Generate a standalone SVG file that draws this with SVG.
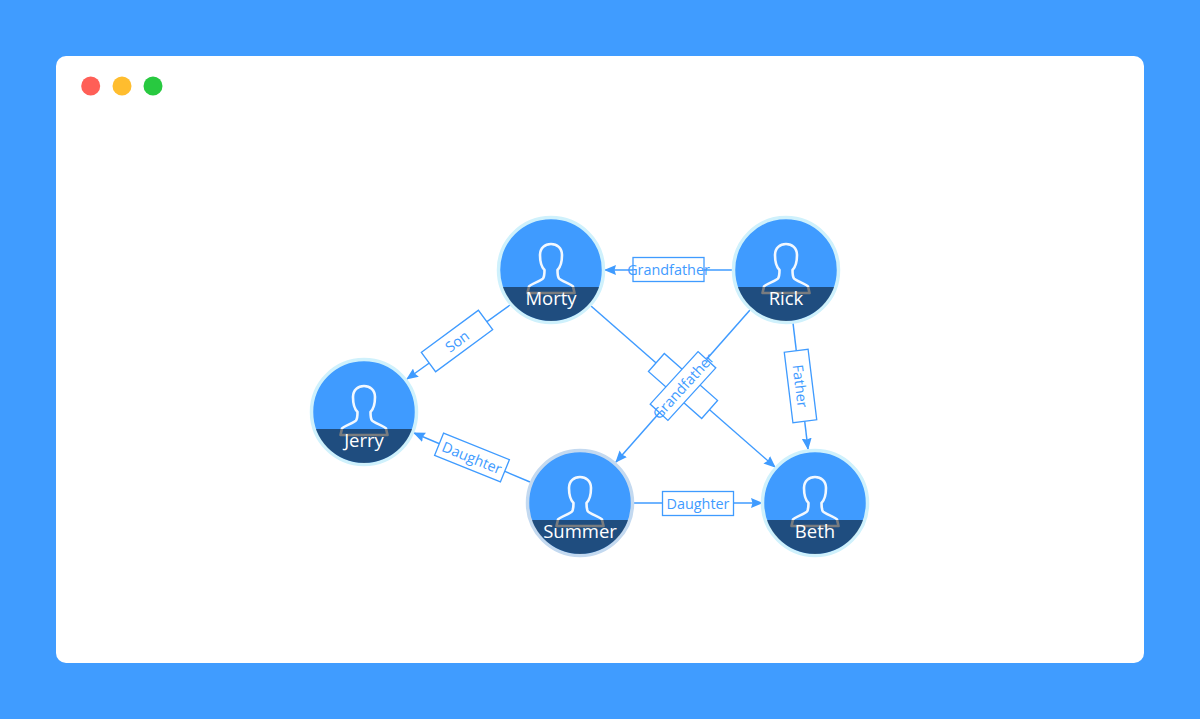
<svg xmlns="http://www.w3.org/2000/svg" xmlns:xlink="http://www.w3.org/1999/xlink" width="1200" height="719" viewBox="0 0 1200 719">
<style>
.edge{fill:none;stroke:#3f9bff;stroke-width:1.5;marker-end:url(#arr)}
.lbox{fill:#fff;stroke:#3f9bff;stroke-width:1.3}
.ltxt{font-family:"Open Sans","Noto Sans",sans-serif;font-size:14.4px;fill:#3f9bff;text-anchor:middle;dominant-baseline:central}
.ring{fill:#3f9bff;stroke:#cff1fc;stroke-width:3.5}
.ring2{fill:#3f9bff;stroke:#c3d9f0;stroke-width:3.5}
.icon{fill:none;stroke:#f2f8ff;stroke-width:2.6;stroke-linejoin:round}
.band{fill:#000;fill-opacity:.5}
.name{font-family:"Open Sans","Noto Sans",sans-serif;font-size:18.5px;fill:#fff;text-anchor:middle;dominant-baseline:central}
</style>
<defs>
<marker id="arr" viewBox="0 0 12 10" markerWidth="12" markerHeight="10" refX="11" refY="5" orient="auto" markerUnits="userSpaceOnUse"><path d="M0 0L12 5L0 10L1.5 5Z" fill="#3f9bff"/></marker>
<clipPath id="disc"><circle cx="0" cy="0" r="51"/></clipPath>
<g id="face">
<path class="icon" d="M-23.5 23L-22 16.5C-20.500 14-10 11-8 8.500C-6.500 6.500-6.500 3-6.500 0C-9.500-3-11-9-11-15C-11-22-6-26 0-26C6-26 11-22 11-15C11-9 9.500-3 6.500 0C6.500 3 6.500 6.500 8 8.500C10 11 20.500 14 22 16.500L23.500 23Z"/>
<rect class="band" x="-52" y="17" width="104" height="36" clip-path="url(#disc)"/>
</g>
</defs>
<rect width="1200" height="719" fill="#409cff"/>
<rect x="56" y="56" width="1088" height="607" rx="10" fill="#fff"/>
<circle cx="90.7" cy="86" r="9.500" fill="#ff5f57"/>
<circle cx="122" cy="86" r="9.500" fill="#ffbd2e"/>
<circle cx="153" cy="86" r="9.500" fill="#28c940"/>
<g id="connectors">
<path class="edge" d="M733 270H605"/>
<path class="edge" d="M510 305L407 379"/>
<path class="edge" d="M591 306L775 467"/>
<path class="edge" d="M750 310L616 462"/>
<path class="edge" d="M793 323L808 449"/>
<path class="edge" d="M530 482L414 433"/>
<path class="edge" d="M634 503H762"/>
<g id="edge-labels">
<g transform="translate(668.500,269.500)"><rect class="lbox" x="-35.500" y="-12" width="71" height="24"/><text class="ltxt">Grandfather</text></g>
<g transform="translate(457,341) rotate(-36.500)"><rect class="lbox" x="-35.500" y="-12" width="71" height="24"/><text class="ltxt">Son</text></g>
<g transform="translate(683,386) rotate(41.400)"><rect class="lbox" x="-35.500" y="-12" width="71" height="24"/></g>
<g transform="translate(683,386) rotate(-47.600)"><rect class="lbox" x="-35.500" y="-12" width="71" height="24"/><text class="ltxt">Grandfather</text></g>
<g transform="translate(800.500,386) rotate(83)"><rect class="lbox" x="-35.500" y="-12" width="71" height="24"/><text class="ltxt">Father</text></g>
<g transform="translate(472,457.500) rotate(22)"><rect class="lbox" x="-35.500" y="-12" width="71" height="24"/><text class="ltxt">Daughter</text></g>
<g transform="translate(698,503.500)"><rect class="lbox" x="-35.500" y="-12" width="71" height="24"/><text class="ltxt">Daughter</text></g>
</g>
</g>
<g id="morty" transform="translate(551,270)"><circle class="ring" r="52.500"/><use xlink:href="#face" href="#face"/><text class="name" y="27.500">Morty</text></g>
<g id="rick" transform="translate(786,270)"><circle class="ring" r="52.500"/><use xlink:href="#face" href="#face"/><text class="name" y="27.500">Rick</text></g>
<g id="jerry" transform="translate(364,412)"><circle class="ring" r="52.500"/><use xlink:href="#face" href="#face"/><text class="name" y="27.500">Jerry</text></g>
<g id="summer" transform="translate(580,503)"><circle class="ring2" r="52.500"/><use xlink:href="#face" href="#face"/><text class="name" y="27.500">Summer</text></g>
<g id="beth" transform="translate(815,503)"><circle class="ring" r="52.500"/><use xlink:href="#face" href="#face"/><text class="name" y="27.500">Beth</text></g>
</svg>
